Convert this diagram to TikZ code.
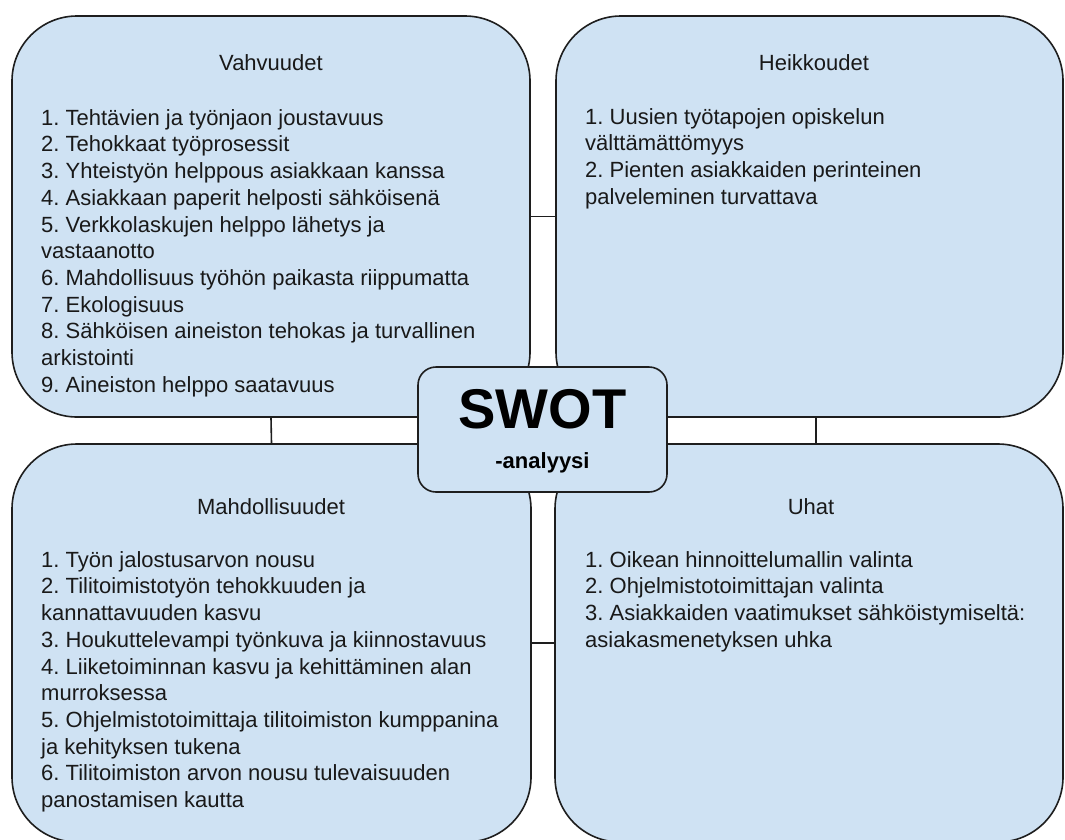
\documentclass[tikz,border=0pt]{standalone}
\usepackage{fontspec}
\setmainfont{Liberation Sans}
\frenchspacing
\definecolor{boxfill}{RGB}{207,226,243}
\definecolor{boxline}{RGB}{30,30,30}
\definecolor{txt}{RGB}{25,25,25}
\begin{document}
\begin{tikzpicture}[x=1pt,y=-1pt,
  quad/.style={draw=boxline, line width=1.6pt, fill=boxfill, rounded corners=65pt, inner sep=0pt},
  hub/.style={draw=boxline, line width=1.6pt, fill=boxfill, rounded corners=18pt, inner sep=0pt, minimum width=249pt, minimum height=125pt},
  link/.style={draw=boxline, line width=1.6pt},
  head/.style={anchor=base, inner sep=0pt, text=txt, font=\fontsize{22}{26.7}\selectfont},
  items/.style={anchor=north west, align=left, inner sep=0pt, text=txt, font=\fontsize{22}{26.7}\selectfont}]
\useasboundingbox (0,0) rectangle (1065,839);
\fill[white] (0,0) rectangle (1065,839);
% quadrants
\node[quad, minimum width=518pt, minimum height=401pt] (S) at (271,216.5) {};
\node[quad, minimum width=507pt, minimum height=401pt] (W) at (809.5,216.5) {};
\node[quad, minimum width=519pt, minimum height=398pt] (O) at (271.5,643) {};
\node[quad, minimum width=508pt, minimum height=398pt] (T) at (809,643) {};
% connectors
\draw[link] (S.east) -- (W.west);
\draw[link] (O.east) -- (T.west);
\draw[link] (S.south) -- (O.north);
\draw[link] ([xshift=6.5pt]W.south) -- ([xshift=7pt]T.north);
% hub
\node[hub] (C) at (542.5,429.5) {};
\node[anchor=base, inner sep=0pt, text=black, font=\fontsize{56}{60}\selectfont\bfseries] (swot) at (542.5,428) {SWOT};
\node[anchor=base, inner sep=0pt, text=black, font=\fontsize{22}{24}\selectfont\bfseries] (an) at (542.5,468) {-analyysi};
% texts
\node[head] (sh) at (271,70) {Vahvuudet};
\node[items] (sl) at (41,108) {\rule{0pt}{17pt}1. Tehtävien ja työnjaon joustavuus\\
2. Tehokkaat työprosessit\\
3. Yhteistyön helppous asiakkaan kanssa\\
4. Asiakkaan paperit helposti sähköisenä\\
5. Verkkolaskujen helppo lähetys ja\\
vastaanotto\\
6. Mahdollisuus työhön paikasta riippumatta\\
7. Ekologisuus\\
8. Sähköisen aineiston tehokas ja turvallinen\\
arkistointi\\
9. Aineiston helppo saatavuus};
\node[head] (wh) at (814,70) {Heikkoudet};
\node[items] (wl) at (585,107) {\rule{0pt}{17pt}1. Uusien työtapojen opiskelun\\
välttämättömyys\\
2. Pienten asiakkaiden perinteinen\\
palveleminen turvattava};
\node[head] (oh) at (271,514) {Mahdollisuudet};
\node[items] (ol) at (41,550) {\rule{0pt}{17pt}1. Työn jalostusarvon nousu\\
2. Tilitoimistotyön tehokkuuden ja\\
kannattavuuden kasvu\\
3. Houkuttelevampi työnkuva ja kiinnostavuus\\
4. Liiketoiminnan kasvu ja kehittäminen alan\\
murroksessa\\
5. Ohjelmistotoimittaja tilitoimiston kumppanina\\
ja kehityksen tukena\\
6. Tilitoimiston arvon nousu tulevaisuuden\\
panostamisen kautta};
\node[head] (th) at (811,514) {Uhat};
\node[items] (tl) at (585,550) {\rule{0pt}{17pt}1. Oikean hinnoittelumallin valinta\\
2. Ohjelmistotoimittajan valinta\\
3. Asiakkaiden vaatimukset sähköistymiseltä:\\
asiakasmenetyksen uhka};
\end{tikzpicture}
\end{document}
